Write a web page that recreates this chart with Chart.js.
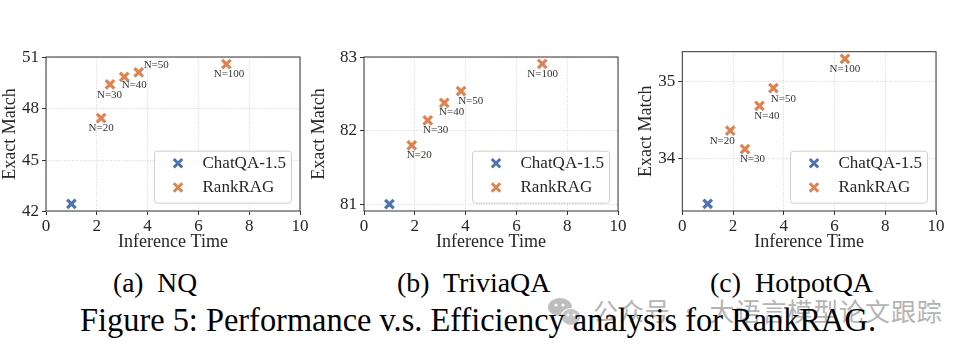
<!DOCTYPE html>
<html><head><meta charset="utf-8">
<script src="https://cdn.jsdelivr.net/npm/chart.js@4.4.0/dist/chart.umd.min.js"></script>
<style>
html,body{margin:0;padding:0;background:#fff;width:968px;height:351px;overflow:hidden;position:relative}
canvas{position:absolute;top:0}
.txt{position:absolute;font-family:"Liberation Serif","Times New Roman",serif;color:#000;white-space:pre;transform-origin:0 0;line-height:1}
#wm{position:absolute;left:593px;top:298px;font-family:"Noto Sans CJK SC",sans-serif;font-size:25px;line-height:1;color:#b4b4b4;white-space:pre;letter-spacing:0.9px}
#icon{position:absolute;left:546px;top:296px}
</style></head>
<body>
<canvas id="cA" width="310" height="260" style="left:0px"></canvas>
<canvas id="cB" width="318" height="260" style="left:310px"></canvas>
<canvas id="cC" width="338" height="260" style="left:630px"></canvas>
<svg id="icon" width="40" height="34" viewBox="0 0 40 34">
  <ellipse cx="14" cy="11" rx="12" ry="9" fill="#bdbdbd"/>
  <ellipse cx="25" cy="21" rx="10" ry="8.5" fill="#c4c4c4" stroke="#fff" stroke-width="1.2"/>
  <circle cx="10" cy="9" r="1.6" fill="#fff"/><circle cx="17" cy="9" r="1.6" fill="#fff"/>
  <circle cx="22" cy="19" r="1.4" fill="#fff"/><circle cx="28" cy="19" r="1.4" fill="#fff"/>
</svg>
<div id="wm">公众号 · 大语言模型论文跟踪</div>
<div class="txt" id="subA" style="font-size:28px"></div>
<div class="txt" id="subB" style="font-size:28px"></div>
<div class="txt" id="subC" style="font-size:28px"></div>
<div class="txt" id="cap" style="font-size:34px"></div>
<script>
// ---------------- data ----------------
const seriesNames = ['ChatQA-1.5', 'RankRAG'];
const rankLabels = ['N=20', 'N=30', 'N=40', 'N=50', 'N=100'];
const xTicks = [0, 2, 4, 6, 8, 10];
const xTitle = 'Inference Time';
const yTitle = 'Exact Match';

// (a) NQ
const nqChatTime = [1.0];
const nqChatEM = [42.45];
const nqRankTime = [2.17, 2.52, 3.08, 3.65, 7.10];
const nqRankEM = [47.46, 49.43, 49.87, 50.13, 50.62];
const nqYTicks = [42, 45, 48, 51];

// (b) TriviaQA
const tqChatTime = [1.0];
const tqChatEM = [81.0];
const tqRankTime = [1.88, 2.51, 3.16, 3.82, 7.02];
const tqRankEM = [81.80, 82.14, 82.38, 82.54, 82.91];
const tqYTicks = [81, 82, 83];

// (c) HotpotQA
const hqChatTime = [1.0];
const hqChatEM = [33.41];
const hqRankTime = [1.89, 2.47, 3.04, 3.59, 6.41];
const hqRankEM = [34.36, 34.12, 34.68, 34.91, 35.29];
const hqYTicks = [34, 35];

const subCaptions = ['(a)  NQ', '(b)  TriviaQA', '(c)  HotpotQA'];
const figCaption = 'Figure 5: Performance v.s. Efficiency analysis for RankRAG.';

// ---------------- style ----------------
const SERIF = "'Liberation Serif','Times New Roman',serif";
const BLUE = '#4c72b0', ORANGE = '#dd8452';
const TXT = '#262626', GRID = '#d4d4d4', FRAME = '#333333';

const framePlugin = {
  id: 'frame',
  beforeDatasetsDraw(chart) {
    const {ctx, chartArea: a} = chart;
    ctx.save();
    ctx.strokeStyle = FRAME; ctx.lineWidth = 1;
    ctx.strokeRect(a.left, a.top, a.right - a.left, a.bottom - a.top);
    ctx.restore();
  }
};

const labelPlugin = {
  id: 'ptLabels',
  afterDatasetsDraw(chart, args, opts) {
    const {ctx} = chart;
    const ds = chart.data.datasets[1];
    const xs = chart.scales.x, ys = chart.scales.y;
    ctx.save();
    ctx.font = '11px ' + SERIF;
    ctx.fillStyle = '#333';
    ctx.textAlign = 'center'; ctx.textBaseline = 'middle';
    ds.data.forEach((p, i) => {
      const off = opts.offsets[i];
      ctx.fillText(rankLabels[i], xs.getPixelForValue(p.x) + off[0], ys.getPixelForValue(p.y) + off[1]);
    });
    ctx.restore();
  }
};

const legendPlugin = {
  id: 'boxLegend',
  afterDraw(chart) {
    const {ctx, chartArea: a} = chart;
    const w = 137, h = 52;
    const x0 = a.right - 9 - w, y0 = a.bottom - 8.3 - h;
    ctx.save();
    ctx.beginPath();
    ctx.roundRect(x0 + 0.5, y0 + 0.5, w, h, 3);
    ctx.fillStyle = 'rgba(255,255,255,0.85)'; ctx.fill();
    ctx.strokeStyle = '#cfcfcf'; ctx.lineWidth = 1; ctx.stroke();
    chart.data.datasets.forEach((ds, i) => {
      const cy = y0 + 12.6 + i * 24.2;
      ctx.strokeStyle = ds.pointBorderColor; ctx.fillStyle = ds.pointBorderColor;
      ctx.lineWidth = 3;
      Chart.helpers.drawPoint(ctx, {pointStyle: 'crossRot', radius: 6, borderWidth: 3, rotation: 0}, x0 + 24, cy);
      ctx.fillStyle = TXT;
      ctx.font = '17px ' + SERIF;
      ctx.textAlign = 'left'; ctx.textBaseline = 'middle';
      ctx.fillText(ds.label, x0 + 48.5, cy + 0.5);
    });
    ctx.restore();
  }
};

function makeChart(id, p) {
  const pt = (xs, ys) => xs.map((x, i) => ({x: x, y: ys[i]}));
  const dsStyle = c => ({pointStyle: 'crossRot', pointRadius: 6, pointHoverRadius: 6, pointBorderWidth: 3.2, pointBorderColor: c, pointBackgroundColor: c, showLine: false});
  return new Chart(document.getElementById(id), {
    type: 'scatter',
    data: {datasets: [
      Object.assign({label: seriesNames[0], data: pt(p.chatT, p.chatE)}, dsStyle(BLUE)),
      Object.assign({label: seriesNames[1], data: pt(p.rankT, p.rankE)}, dsStyle(ORANGE))
    ]},
    options: {
      responsive: false, animation: false, devicePixelRatio: 1,
      layout: {padding: {left: 0, right: p.padR, top: p.padT, bottom: 0}},
      plugins: {legend: {display: false}, tooltip: {enabled: false}, ptLabels: {offsets: p.lblOff}},
      scales: {
        x: {
          type: 'linear', min: 0, max: 10,
          afterBuildTicks: s => { s.ticks = xTicks.map(v => ({value: v})); },
          afterFit: s => { s.height = 49; },
          grid: {color: GRID, lineWidth: 1, tickColor: FRAME, tickLength: 4, tickWidth: 1},
          border: {display: false, dash: [1, 1.6]},
          ticks: {font: {family: SERIF, size: 17}, color: TXT, padding: 1, maxRotation: 0},
          title: {display: true, text: xTitle, color: TXT, font: {family: SERIF, size: 18, lineHeight: 1}, padding: {top: 0, bottom: 9}}
        },
        y: {
          type: 'linear', min: p.yMin, max: p.yMax,
          afterBuildTicks: s => { s.ticks = p.yTicks.map(v => ({value: v})); },
          afterFit: s => { s.width = p.yW; },
          grid: {color: GRID, lineWidth: 1, tickColor: FRAME, tickLength: 4, tickWidth: 1},
          border: {display: false, dash: [1, 1.6]},
          ticks: {font: {family: SERIF, size: 17}, color: TXT, padding: 3},
          title: {display: true, text: yTitle, color: TXT, font: {family: SERIF, size: 18, lineHeight: 1}, padding: {top: p.titlePad, bottom: 0}}
        }
      }
    },
    plugins: [framePlugin, labelPlugin, legendPlugin]
  });
}

makeChart('cA', {chatT: nqChatTime, chatE: nqChatEM, rankT: nqRankTime, rankE: nqRankEM, yTicks: nqYTicks,
  yMin: 42.03, yMax: 51.03, padR: 10, padT: 57, yW: 46, titlePad: 1.5,
  lblOff: [[0, 10.5], [-0.5, 11], [10, 8.5], [17.5, -7.3], [2.7, 10.3]]});
makeChart('cB', {chatT: tqChatTime, chatE: tqChatEM, rankT: tqRankTime, rankE: tqRankEM, yTicks: tqYTicks,
  yMin: 80.905, yMax: 83.005, padR: 10, padT: 57, yW: 54, titlePad: 0,
  lblOff: [[7.5, 10], [7.8, 9.5], [7.4, 9.4], [9.7, 9.7], [0.3, 10]]});
makeChart('cC', {chatT: hqChatTime, chatE: hqChatEM, rankT: hqRankTime, rankE: hqRankEM, yTicks: hqYTicks,
  yMin: 33.316, yMax: 35.384, padR: 32, padT: 51.7, yW: 52.3, titlePad: 7.7,
  lblOff: [[-8, 10.4], [7.5, 10], [7.4, 9.7], [10, 10.4], [0, 10.6]]});

// ---------------- captions ----------------
function place(id, text, left, width, top) {
  const el = document.getElementById(id);
  el.textContent = text;
  const w = el.getBoundingClientRect().width;
  el.style.left = left + 'px';
  el.style.top = top + 'px';
  el.style.transform = 'scaleX(' + (width / w) + ')';
}
place('subA', subCaptions[0], 113, 84, 269);
place('subB', subCaptions[1], 396.7, 153.3, 269);
place('subC', subCaptions[2], 710, 163, 269);
place('cap', figCaption, 80, 796, 302.5);
</script>
</body></html>
